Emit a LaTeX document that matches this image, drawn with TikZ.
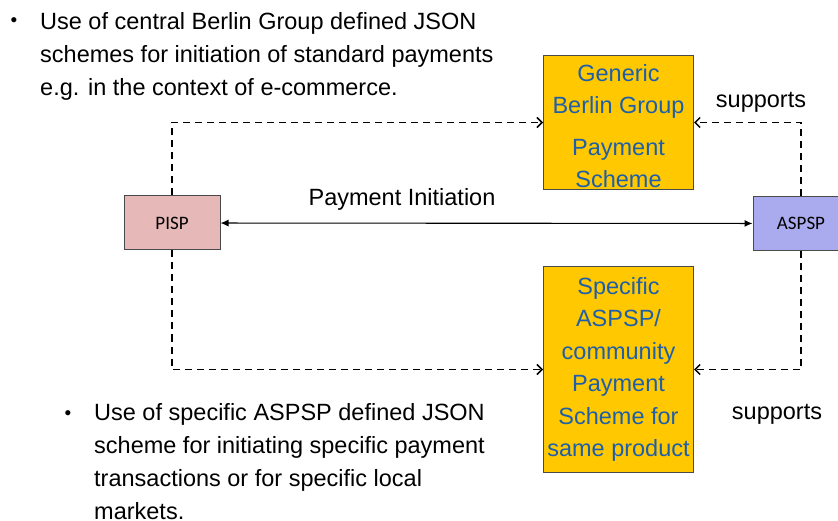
\documentclass[tikz,border=0pt]{standalone}
\usepackage{fontspec}
\setmainfont{Liberation Sans}
\newfontfamily\calibri{Carlito}
\usetikzlibrary{arrows.meta}
\definecolor{pispfill}{HTML}{E6B9B8}
\definecolor{aspspfill}{HTML}{AAAAEE}
\definecolor{gold}{HTML}{FFC800}
\definecolor{schemeblue}{HTML}{1F5FAA}
\definecolor{boxline}{HTML}{4A4A4A}
\begin{document}
\begin{tikzpicture}[x=1pt,y=-1pt,
  party/.style={draw=boxline, line width=1pt, minimum width=96pt, minimum height=54pt,
    font=\calibri\fontsize{19}{22}\selectfont, inner sep=0pt},
  scheme/.style={draw=boxline, fill=gold, line width=1pt, text=schemeblue,
    font=\fontsize{23.5}{32.5}\selectfont, align=center, minimum width=150pt, inner sep=0pt},
  dashconn/.style={dash pattern=on 7pt off 5pt, line width=1.7pt,
    -{Straight Barb[length=5pt,width=10pt,line width=1.5pt]}},
  body/.style={font=\fontsize{23.5}{33}\selectfont, align=left, inner sep=0pt},
  lbl/.style={font=\fontsize{23.5}{28}\selectfont, inner sep=0pt},
  dot/.style={font=\fontsize{19}{22}\selectfont, inner sep=0pt, anchor=base}
]
\useasboundingbox (0,0) rectangle (838,521);
\clip (0,0) rectangle (838,521);

\node[party, fill=pispfill] (pisp) at (172,223) {PISP};
\node[party, fill=aspspfill] (aspsp) at (801,223.5) {ASPSP};
\node[scheme, minimum height=134pt] (generic) at (618.5,122.5)
  {\rule{0pt}{24pt}Generic\\Berlin Group\\[9pt]Payment\\Scheme};
\node[scheme, minimum height=206pt] (specific) at (618.5,369.5)
  {Specific\\ASPSP/\\community\\Payment\\Scheme for\\same product};

\draw[dashconn] (pisp.north) |- (generic.west);
\draw[dashconn] (aspsp.north) |- (generic.east);
\draw[dashconn] (pisp.south) |- (specific.west);
\draw[dashconn] (aspsp.south) |- (specific.east);
\draw[{Latex[length=8pt,width=7pt]}-{Latex[length=8pt,width=7pt]}, line width=1.1pt]
  (pisp) -- (aspsp);

\node[lbl, anchor=base] (pilabel) at (402,206) {Payment Initiation};
\node[lbl, anchor=base] (sup1) at (761,108) {supports};
\node[lbl, anchor=base] (sup2) at (777,419) {supports};

\node[dot] (bullet1) at (14,27) {•};
\node[body, anchor=north west] (text1) at (40,12)
  {Use of central Berlin Group defined JSON\\schemes for initiation of standard payments\\e.g. in the context of e-commerce.};
\node[dot] (bullet2) at (68,419) {•};
\node[body, anchor=north west] (text2) at (94,403)
  {Use of specific ASPSP defined JSON\\scheme for initiating specific payment\\transactions or for specific local\\markets.};
\end{tikzpicture}
\end{document}
